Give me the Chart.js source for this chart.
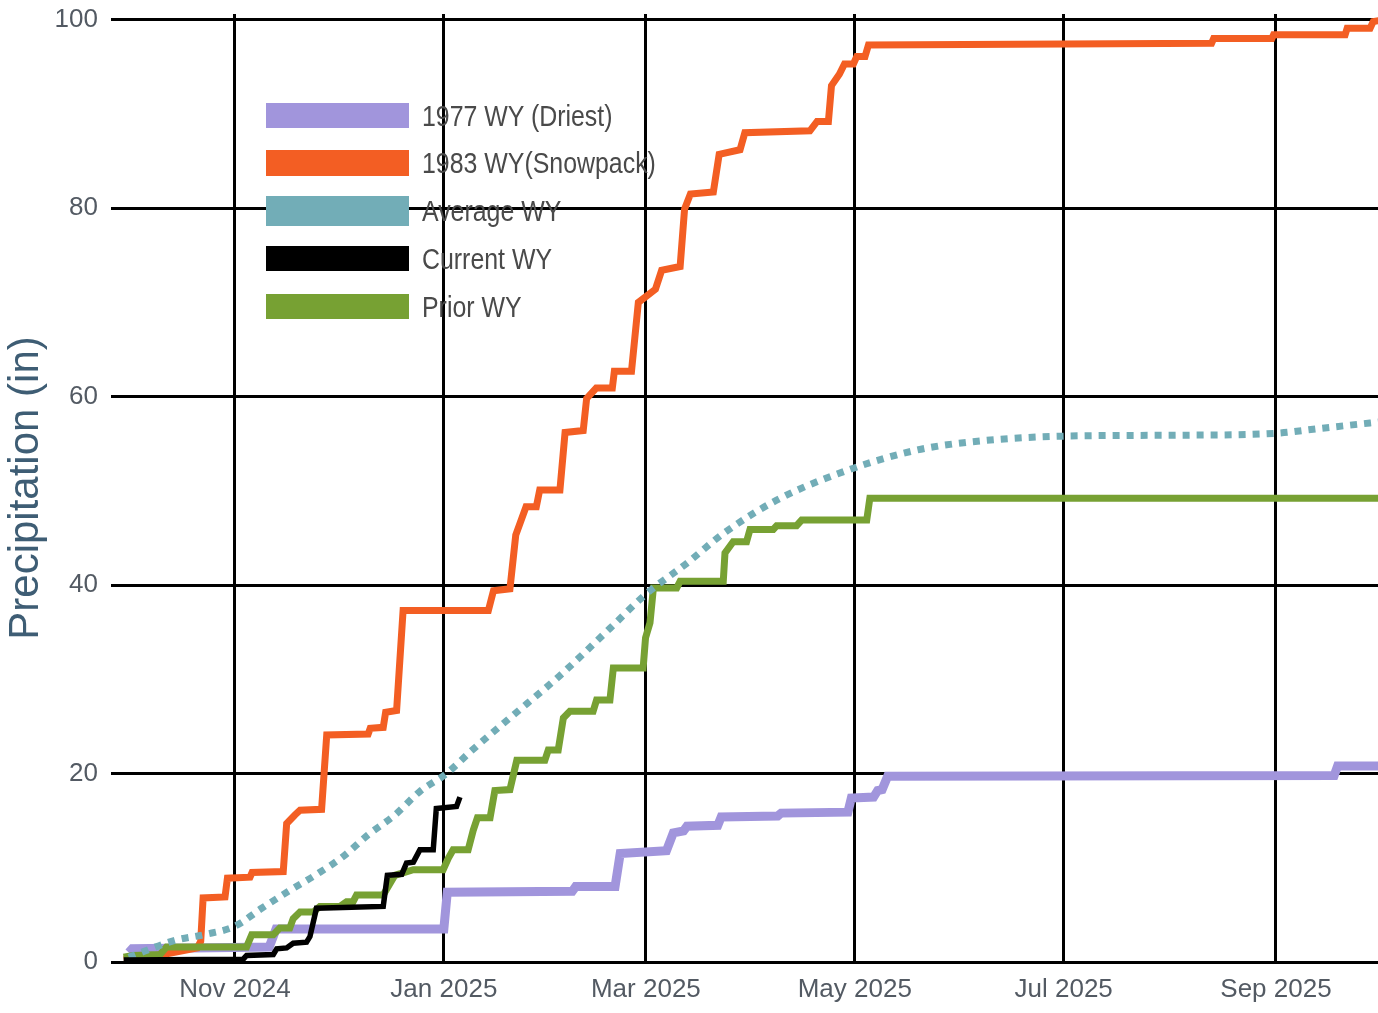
<!DOCTYPE html>
<html>
<head>
<meta charset="utf-8">
<title>Precipitation by water year</title>
<script src="https://cdn.jsdelivr.net/npm/chart.js"></script>
<style>
  html, body { margin: 0; padding: 0; background: #fff; }
  #wrap { position: relative; width: 1378px; height: 1013px; }
  #legend { position: absolute; left: 0; top: 0; }
  .item { position: absolute; left: 266px; display: flex; align-items: center; }
  .box { width: 143px; flex: none; }
  .label {
    margin-left: 13px;
    font-family: "Liberation Sans", Arial, sans-serif;
    font-size: 30px;
    color: #4a4a4a;
    white-space: nowrap;
    transform: scaleX(0.83);
    transform-origin: left center;
  }
</style>
</head>
<body>
<div id="wrap">
  <canvas id="precipChart"></canvas>
  <div id="legend"></div>
</div>
<script>
// x = day of the water year, 0 = Oct 1 2024
const monthTicks = [31, 92, 151, 212, 273, 335];
const monthLabels = ['Nov 2024', 'Jan 2025', 'Mar 2025', 'May 2025', 'Jul 2025', 'Sep 2025'];
const yTicks = [0, 20, 40, 60, 80, 100];

// 1977 WY (Driest)
const driestDays = [0, 1, 41, 43, 92, 93, 129.5, 130.5, 142, 143.5, 157, 159, 162, 163, 172, 173, 189.5, 190.5, 210, 211, 217.5, 218.7, 220, 221.6, 352, 353, 365];
const driestIn = [1.0, 1.4, 1.6, 3.5, 3.5, 7.4, 7.5, 8.0, 8.0, 11.5, 11.8, 13.7, 13.9, 14.4, 14.5, 15.4, 15.5, 15.8, 15.9, 17.4, 17.5, 18.2, 18.3, 19.7, 19.8, 20.8, 20.8];

// 1983 WY (Snowpack)
const snowDays = [-1.5, 10, 20, 21, 21.7, 28.1, 28.8, 35.4, 36, 45.1, 46.1, 48.5, 50, 56.3, 57.8, 69.9, 70.5, 74.3, 75, 78.2, 80.1, 105, 106.5, 111.3, 113, 116, 119, 120, 125.9, 127.4, 132.7, 133.7, 136.5, 141.2, 141.8, 146.8, 148.8, 153.8, 155.6, 161, 162.3, 164, 170.7, 172.4, 178.5, 179.9, 198.9, 201, 204.3, 205.2, 207.5, 209, 211.6, 212.6, 215, 216, 316.2, 316.8, 333.8, 334.3, 355.2, 355.8, 362.5, 363.4, 365];
const snowIn = [0.3, 0.8, 1.5, 2.2, 6.8, 6.9, 8.9, 9.0, 9.5, 9.6, 14.7, 15.6, 16.1, 16.2, 24.1, 24.2, 24.8, 24.9, 26.5, 26.7, 37.3, 37.3, 39.4, 39.6, 45.3, 48.3, 48.3, 50.1, 50.1, 56.2, 56.4, 59.8, 60.9, 60.9, 62.7, 62.7, 70.0, 71.4, 73.4, 73.8, 79.9, 81.5, 81.7, 85.7, 86.2, 88.0, 88.2, 89.2, 89.2, 93.0, 94.2, 95.3, 95.3, 96.1, 96.1, 97.3, 97.5, 98.0, 98.0, 98.4, 98.4, 99.1, 99.1, 99.8, 99.9];

// Average WY
const avgDays = [0, 13.5, 22, 31, 38.8, 46.6, 54.4, 62.6, 69.9, 77.7, 85, 92.8, 100, 111.3, 125.9, 140.5, 151.2, 162.9, 174.1, 190.2, 211.6, 228.6, 241.3, 272.5, 305.8, 334.9, 347.3, 365];
const avgIn = [0.5, 2.3, 2.9, 3.8, 5.7, 7.5, 9.2, 11.2, 13.5, 15.6, 18.1, 20.0, 22.4, 25.9, 30.4, 35.4, 39.1, 42.3, 45.6, 49.2, 52.4, 54.2, 55.0, 55.8, 55.9, 56.1, 56.6, 57.3];

// Current WY
const currentDays = [-1.5, 33.4, 34.4, 42.2, 43.2, 46.1, 48, 51.9, 52.9, 54.8, 65, 74.3, 75.5, 79.7, 81.1, 83.1, 85, 88.9, 89.8, 95.7, 96.7];
const currentIn = [0.2, 0.3, 0.7, 0.8, 1.4, 1.5, 2.0, 2.1, 2.7, 5.7, 5.8, 5.9, 9.2, 9.3, 10.5, 10.6, 11.9, 11.9, 16.3, 16.5, 17.5];

// Prior WY
const priorDays = [-1.5, 1.3, 9.1, 11, 34.4, 35.9, 42.2, 44.1, 47, 48, 50, 53.9, 55.8, 61.7, 63.6, 65.5, 66.5, 74.3, 77.7, 83.1, 91.8, 93.3, 94.7, 99.1, 100.6, 101.8, 105.5, 106.9, 111.3, 113.3, 121.5, 122.5, 125.4, 126.9, 128.8, 135.6, 136.6, 140.5, 141.5, 150.2, 150.9, 152.2, 153.2, 160, 161, 173.6, 174.1, 176.5, 180.4, 181.4, 188.2, 189.2, 195, 196.5, 215.5, 216.4, 365];
const priorIn = [0.5, 0.7, 0.8, 1.6, 1.6, 2.9, 2.9, 3.6, 3.6, 4.6, 5.3, 5.3, 5.9, 5.9, 6.4, 6.4, 7.1, 7.1, 9.2, 9.8, 9.8, 11.0, 11.9, 11.9, 14.0, 15.3, 15.3, 18.2, 18.3, 21.4, 21.4, 22.5, 22.5, 25.9, 26.6, 26.6, 27.8, 27.8, 31.2, 31.2, 34.4, 36.0, 39.7, 39.7, 40.4, 40.4, 43.4, 44.6, 44.6, 45.9, 45.9, 46.3, 46.3, 46.9, 46.9, 49.2, 49.2];

const pts = (days, vals) => days.map((d, i) => ({ x: d, y: vals[i] }));

const tickFont = '"Liberation Sans", Arial, sans-serif';
const tickColor = '#535a63';

const datasets = [
  { label: '1977 WY (Driest)', data: pts(driestDays, driestIn), borderColor: '#a195dc', borderWidth: 9, order: 5, legendH: 25 },
  { label: '1983 WY(Snowpack)', data: pts(snowDays, snowIn), borderColor: '#f35e23', borderWidth: 7, order: 4, legendH: 26 },
  { label: 'Average WY', data: pts(avgDays, avgIn), borderColor: '#72adb7', borderWidth: 7, borderDash: [7, 7],
    cubicInterpolationMode: 'monotone', order: 2, legendH: 30 },
  { label: 'Current WY', data: pts(currentDays, currentIn), borderColor: '#000000', borderWidth: 5.5, order: 1, legendH: 25 },
  { label: 'Prior WY', data: pts(priorDays, priorIn), borderColor: '#77a133', borderWidth: 7, order: 3, legendH: 25 }
];

const ctx = document.getElementById('precipChart').getContext('2d');
const chart = new Chart(ctx, {
  type: 'line',
  data: { datasets: datasets },
  options: {
    responsive: true,
    maintainAspectRatio: false,
    animation: false,
    layout: { padding: { top: 14, right: 0, bottom: 0, left: 0 } },
    elements: { point: { radius: 0 }, line: { fill: false, tension: 0 } },
    plugins: { legend: { display: false }, tooltip: { enabled: false } },
    scales: {
      x: {
        type: 'linear',
        min: -5.2,
        max: 364.8,
        bounds: 'data',
        afterBuildTicks: s => { s.ticks = monthTicks.map(v => ({ value: v })); },
        afterFit: s => { s.height = 51; s.paddingLeft = 0; s.paddingRight = 0; },
        ticks: {
          autoSkip: false,
          maxRotation: 0,
          padding: 12,
          color: tickColor,
          font: { family: tickFont, size: 26, lineHeight: 1.2 },
          callback: v => monthLabels[monthTicks.indexOf(v)]
        },
        grid: { color: '#000', lineWidth: 3, drawTicks: false },
        border: { display: false }
      },
      y: {
        min: 0,
        max: 100.6,
        bounds: 'data',
        afterBuildTicks: s => { s.ticks = yTicks.map(v => ({ value: v })); },
        afterFit: s => { s.width = 111; s.paddingTop = 0; s.paddingBottom = 0; },
        ticks: {
          padding: 13,
          color: tickColor,
          font: { family: tickFont, size: 26, lineHeight: 0.9 }
        },
        grid: { color: '#000', lineWidth: 3, drawTicks: false },
        border: { display: false },
        title: {
          display: true,
          text: 'Precipitation (in)',
          color: '#3e5d74',
          font: { family: '"Liberation Sans", Arial, sans-serif', size: 42, lineHeight: 1.2 },
          padding: { top: 1, bottom: 0 }
        }
      }
    }
  }
});

// legend drawn as html over the plot
const legend = document.getElementById('legend');
chart.data.datasets.forEach((ds, i) => {
  const row = document.createElement('div');
  row.className = 'item';
  row.style.top = (115.5 + i * 47.75 - 16) + 'px';
  row.style.height = '32px';
  const box = document.createElement('div');
  box.className = 'box';
  box.style.height = ds.legendH + 'px';
  box.style.background = ds.borderColor;
  const label = document.createElement('span');
  label.className = 'label';
  label.textContent = ds.label;
  row.appendChild(box);
  row.appendChild(label);
  legend.appendChild(row);
});
</script>
</body>
</html>
